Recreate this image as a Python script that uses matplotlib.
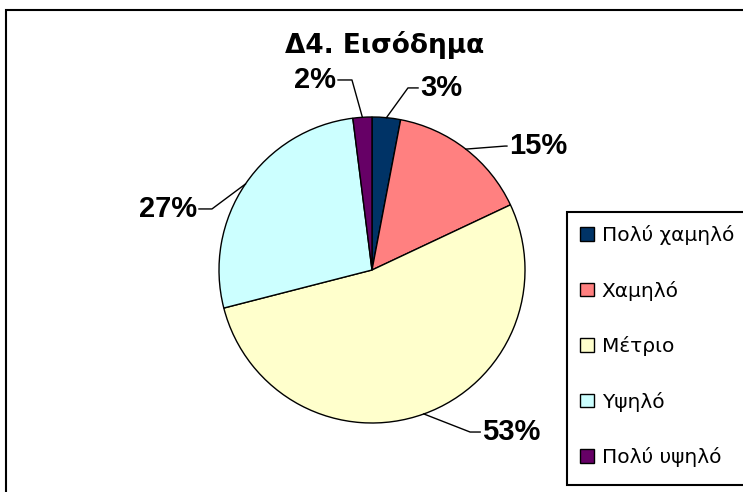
import numpy as np
import matplotlib
matplotlib.use('Agg')
import matplotlib.pyplot as plt
from matplotlib.patches import Rectangle

plt.rcParams['font.family'] = ['Liberation Sans', 'DejaVu Sans']

# Datos
categorias = ['Πολύ χαμηλό', 'Χαμηλό', 'Μέτριο', 'Υψηλό', 'Πολύ υψηλό']
porcentajes = [3, 15, 53, 27, 2]
colores = ['#003366', '#FF8080', '#FFFFCC', '#CCFFFF', '#660066']
titulo = 'Δ4. Εισόδημα'

# codo de la linea guia y lado del texto (coordenadas de datos, radio = 1)
codos = [(0.235, 1.19), (0.869, 0.81), (0.641, -1.059), (-1.046, 0.399), (-0.131, 1.242)]
tramos = [0.066, 0.013, 0.066, -0.085, -0.091]

W, H = 743, 492
fig = plt.figure(figsize=(W / 100, H / 100), dpi=100)

# marco de la figura (recortado a la derecha y abajo)
fig.patches.append(Rectangle((6.5 / W, -0.1), 1.2, 1 - 9.5 / H + 0.1, transform=fig.transFigure,
                             fill=False, edgecolor='black', linewidth=1.5))

cx, cy, R = 372, 270, 153
ax = fig.add_axes([(cx - R) / W, (H - cy - R) / H, 2 * R / W, 2 * R / H])
wedges, _ = ax.pie(porcentajes, colors=colores, startangle=90, counterclock=False,
                   wedgeprops=dict(edgecolor='black', linewidth=1))
ax.set_xlim(-1, 1)
ax.set_ylim(-1, 1)
ax.axis('off')

# etiquetas con lineas guia
for w, p, (kx, ky), t in zip(wedges, porcentajes, codos, tramos):
    ang = np.deg2rad((w.theta1 + w.theta2) / 2)
    ex, ey = np.cos(ang), np.sin(ang)
    ax.plot([ex, kx, kx + t], [ey, ky, ky], color='black', lw=1, clip_on=False)
    ha = 'left' if t >= 0 else 'right'
    off = 0.015 if t >= 0 else -0.015
    ax.text(kx + t + off, ky, f'{p}%', ha=ha, va='center', fontsize=21,
            fontweight='bold', clip_on=False)

fig.text(385 / W, (H - 53) / H, titulo, ha='center', va='baseline', fontsize=19,
         fontweight='bold', family='DejaVu Sans')

# caja de la leyenda (se sale por la derecha)
fig.patches.append(Rectangle((567 / W, (H - 485) / H), 0.5, (485 - 212) / H, transform=fig.transFigure,
                             fill=True, facecolor='white', edgecolor='black', linewidth=1.5))

leg = fig.legend(wedges, categorias, loc='upper left', bbox_to_anchor=(567 / W, (H - 212) / H),
                 prop=dict(family='DejaVu Sans', size=14.5), frameon=False,
                 handlelength=0.66, handleheight=0.66, handletextpad=0.4,
                 labelspacing=1.76, borderpad=0.66, borderaxespad=0)

fig.savefig('out.png', dpi=100)
